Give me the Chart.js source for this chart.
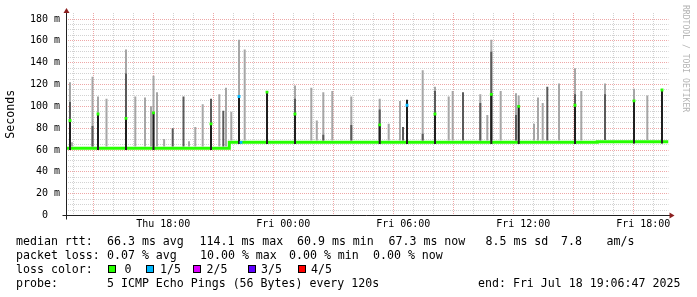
<!DOCTYPE html>
<html>
<head>
<meta charset="utf-8">
<script src="https://cdn.jsdelivr.net/npm/chart.js@4.4.1/dist/chart.umd.min.js"></script>
<style>
html, body { margin: 0; padding: 0; background: #fff; }
#wrap { position: relative; width: 697px; height: 297px; overflow: hidden;
        font-family: 'DejaVu Sans Mono', monospace; font-size: 11.6px; color: #000; }
#wrap canvas { position: absolute; left: 0; top: 0; }
.t { position: absolute; white-space: pre; line-height: 14px; }
.box { position: absolute; width: 6px; height: 6px; border: 1px solid #000; }
#rrd { position: absolute; left: 681px; top: 5px; writing-mode: vertical-rl;
       font-size: 8.1px; line-height: 10px; color: #b4b4b4; white-space: pre; }
</style>
</head>
<body>
<div id="wrap">
  <canvas id="c" width="697" height="297"></canvas>
  <div id="rrd">RRDTOOL / TOBI OETIKER</div>
  <div id="legend"></div>
</div>
<script>
// x axis is in hours, 0 = Thu 18:00
const xStart = -4.865, xEnd = 25.26;
const tickHours = [0, 6, 12, 18, 24];
const tickNames = ['Thu 18:00', 'Fri 00:00', 'Fri 06:00', 'Fri 12:00', 'Fri 18:00'];

// median rtt baseline (ms), held until next point
const medT = [-4.865, 3.3, 21.7, 25.26];
const medV = [61.5, 67.0, 67.6, 67.6];

// smoke spikes: max ping, mid gray, dark (near median) top, in ms
const smokeT = [-4.665, -4.57, -3.54, -3.265, -2.84, -1.865, -1.40, -0.915, -0.615, -0.49,
                -0.315, 0.04, 0.47, 1.01, 1.285, 1.6, 1.97, 2.385, 2.8, 3.0,
                3.135, 3.4, 3.785, 4.07, 5.185, 6.585, 7.4, 7.675, 8.0, 8.45,
                9.4, 10.82, 11.27, 11.835, 11.985, 12.185, 12.97, 13.585, 14.27, 14.47,
                14.985, 15.85, 16.2, 16.4, 16.87, 17.635, 17.77, 18.535, 18.735, 18.97,
                19.2, 19.785, 20.585, 20.9, 22.085, 23.535, 24.2, 24.935];
const smokeMax = [122, 67, 127, 109, 107, 152, 109, 108, 100, 128,
                  113, 70, null, null, 68, 81, 102, null, 111, null,
                  117, 95, 161, 152, null, 119, 117, 87, 113, 114,
                  109, 107, 84, 105, null, null, 133, 118, 109, 114,
                  null, 111, 92, 161, 114, 112, 110, 84, 108, 103,
                  null, 121, 135, 114, 121, 116, 110, null];
const smokeMid = [104, null, 82, null, null, 130, null, null, null, null,
                  null, null, 80, 109, null, null, null, 107, null, 96,
                  null, null, null, null, null, 107, null, null, 74, null,
                  83, 97, null, null, 81, null, 75, 114, null, null,
                  113, 103, null, 150, null, 92, null, null, null, null,
                  118, null, 111, null, 111, null, null, null];
const smokeDark = [87, null, null, 93, null, 89, null, null, null, 94,
                   null, null, null, null, null, null, null, 84, null, null,
                   null, null, 109, null, 113, 93, null, null, null, null,
                   null, 83, null, null, null, 106, null, 93, null, null,
                   null, null, null, 111, null, null, 100, null, null, null,
                   null, null, 101, null, null, 105, null, 115];

// median markers with loss (index into lossColors)
const markT = [-4.665, -3.265, -1.865, -0.49, 2.385, 3.785, 3.885, 5.185, 6.585, 10.82, 12.185, 13.585, 16.4, 17.77, 20.585, 23.535, 24.935];
const markV = [87, 93, 89, 94, 84, 109, 67, 113, 93, 83, 101, 93, 111, 100, 101, 105, 115];
const markLoss = [0, 0, 0, 0, 0, 1, 1, 0, 0, 0, 1, 0, 0, 0, 0, 0, 0];

const lossColors = ['#26ff00', '#00b8ff', '#dd00ff', '#5e00ff', '#ff0000'];
const lossNames = ['0', '1/5', '2/5', '3/5', '4/5'];

function floorAt(t) {
  let v = medV[0];
  for (let i = 0; i < medT.length; i++) if (medT[i] <= t) v = medV[i];
  return v;
}

let lightData = [], midData = [], darkData = [];
for (let i = 0; i < smokeT.length; i++) {
  let b = floorAt(smokeT[i]);
  if (smokeMax[i] != null) lightData.push({x: smokeT[i], y: [b + 1.6, smokeMax[i]]});
  if (smokeMid[i] != null) midData.push({x: smokeT[i], y: [b + 1.6, smokeMid[i]]});
  if (smokeDark[i] != null) darkData.push({x: smokeT[i], y: [b - 1.6, smokeDark[i]]});
}

const RED = 'rgba(222,79,79,0.5)', GRAY = 'rgba(143,143,143,0.4)';

const rrdAxes = {
  id: 'rrdAxes',
  afterDatasetsDraw(chart) {
    const ctx = chart.ctx, a = chart.chartArea;
    const y0 = Math.round(chart.scales.y.getPixelForValue(0)) - 0.5;
    const x0 = Math.round(a.left) + 0.5;
    ctx.save();
    ctx.strokeStyle = '#212121';
    ctx.lineWidth = 1;
    ctx.beginPath();
    ctx.moveTo(x0 - 4, y0); ctx.lineTo(a.right + 2, y0);
    ctx.moveTo(x0, y0 + 4); ctx.lineTo(x0, a.top);
    ctx.stroke();
    ctx.fillStyle = '#8b1f1f';
    ctx.beginPath();
    ctx.moveTo(x0 - 3, a.top); ctx.lineTo(x0, a.top - 5); ctx.lineTo(x0 + 3, a.top); ctx.closePath();
    ctx.fill();
    ctx.beginPath();
    ctx.moveTo(a.right + 1, y0 - 3); ctx.lineTo(a.right + 6, y0); ctx.lineTo(a.right + 1, y0 + 3); ctx.closePath();
    ctx.fill();
    ctx.restore();
  }
};

new Chart(document.getElementById('c'), {
  type: 'bar',
  data: {
    datasets: [
      {type: 'line', data: medT.map((t, i) => ({x: t, y: medV[i]})), stepped: true,
       borderColor: lossColors[0], borderWidth: 3, pointRadius: 0, order: 5},
      {data: lightData, backgroundColor: '#a6a6a6', barThickness: 2, grouped: false, order: 4, inflateAmount: 0},
      {data: midData, backgroundColor: '#5a5a5a', barThickness: 2, grouped: false, order: 3, inflateAmount: 0},
      {data: darkData, backgroundColor: '#1e1e1e', barThickness: 2, grouped: false, order: 2, inflateAmount: 0},
      {type: 'scatter', data: markT.map((t, i) => ({x: t, y: markV[i]})),
       pointStyle: 'rect', pointRadius: 2, pointBorderWidth: 0,
       pointBackgroundColor: markLoss.map(l => lossColors[l]), order: 1}
    ]
  },
  options: {
    responsive: false,
    animation: false,
    layout: {padding: {top: 13, right: 28.5, left: 0, bottom: 0}},
    plugins: {legend: {display: false}, tooltip: {enabled: false}},
    scales: {
      x: {
        type: 'linear', min: xStart, max: xEnd, offset: false,
        afterBuildTicks: s => { let t = []; for (let h = -4; h <= 25; h++) t.push({value: h}); s.ticks = t; },
        afterFit: s => { s.height = 81.5; },
        grid: {color: c => (c.tick && c.tick.value % 3 === 0) ? RED : GRAY, drawTicks: false, lineWidth: 1},
        border: {display: false, dash: [1, 1]},
        ticks: {
          autoSkip: false, maxRotation: 0, padding: 3, color: '#000',
          font: {family: 'DejaVu Sans Mono', size: 10},
          callback: v => { let i = tickHours.indexOf(v); return i >= 0 ? tickNames[i] : ''; }
        }
      },
      y: {
        min: 0, max: 185.5,
        afterBuildTicks: s => { let t = []; for (let v = 0; v <= 180; v += 5) t.push({value: v}); s.ticks = t; },
        afterFit: s => { s.width = 66; },
        grid: {color: c => (c.tick && c.tick.value % 20 === 0) ? RED : GRAY, drawTicks: false, lineWidth: 1},
        border: {display: false, dash: [1, 1]},
        title: {display: true, text: 'Seconds', color: '#000', padding: {top: 4, bottom: 0},
                font: {family: 'DejaVu Sans Mono', size: 11.6}},
        ticks: {
          autoSkip: false, padding: 6, color: '#000', font: {family: 'DejaVu Sans Mono', size: 10},
          callback: v => v % 20 === 0 ? (v === 0 ? '0  ' : v + ' m') : ''
        }
      }
    }
  },
  plugins: [rrdAxes]
});

// legend text under the chart
const legendRows = [
  [[16, 'median rtt:'], [107, '66.3 ms avg'], [199.5, '114.1 ms max'], [297, '60.9 ms min'],
   [388.5, '67.3 ms now'], [485.5, '8.5 ms sd'], [561, '7.8'], [606.5, 'am/s']],
  [[16, 'packet loss:'], [107, '0.07 % avg'], [200, '10.00 % max'], [289, '0.00 % min'], [373, '0.00 % now']],
  [[16, 'loss color:']],
  [[16, 'probe:'], [107, '5 ICMP Echo Pings (56 Bytes) every 120s'], [478, 'end: Fri Jul 18 19:06:47 2025']]
];
const rowTop = [234.2, 248.2, 262, 276];
const boxX = [108, 146, 193, 248, 298];
const boxLabelX = [124.5, 160, 206.5, 261, 311];
let html = '';
legendRows.forEach((row, r) => {
  row.forEach(seg => { html += '<div class="t" style="left:' + seg[0] + 'px;top:' + rowTop[r] + 'px">' + seg[1] + '</div>'; });
});
lossNames.forEach((n, i) => {
  html += '<div class="box" style="left:' + boxX[i] + 'px;top:265px;background:' + lossColors[i] + '"></div>';
  html += '<div class="t" style="left:' + boxLabelX[i] + 'px;top:' + rowTop[2] + 'px">' + n + '</div>';
});
document.getElementById('legend').innerHTML = html;
</script>
</body>
</html>
